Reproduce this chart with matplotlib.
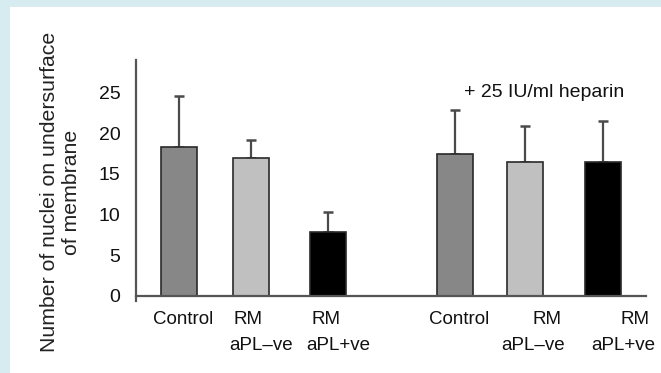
import matplotlib.pyplot as plt
from matplotlib.patches import Rectangle
from matplotlib.transforms import blended_transform_factory

plt.rcParams['font.family'] = ['Liberation Sans', 'DejaVu Sans']

# ---------------- data ----------------
categories = ["Control", "RM\naPL\u2013ve", "RM\naPL+ve",
              "Control", "RM\naPL\u2013ve", "RM\naPL+ve"]
means = [18.3, 16.9, 7.9, 17.4, 16.5, 16.5]
upper_err = [6.3, 2.3, 2.4, 5.5, 4.4, 5.0]
y_ticks = [0, 5, 10, 15, 20, 25]
note = "+ 25 IU/ml heparin"

# ---------------- layout ----------------
xpos = [0, 0.967, 1.993, 3.68, 4.62, 5.66]
bar_colors = ['#878787', '#c0c0c0', '#000000'] * 2
# x centre of each line of each category label (data units)
line_x = [[0.06], [0.93, 1.10], [1.97, 2.13],
          [3.74], [4.91, 4.73], [6.09, 5.93]]
line_y = [320, 345]  # pixel rows from top
txt = '#111111'

W, H = 661, 373
fig = plt.figure(figsize=(W / 100, H / 100), dpi=100)
fig.patch.set_facecolor('#d6ecf1')
fig.patches.append(Rectangle((10 / W, 0), 1, 1 - 7 / H, transform=fig.transFigure,
                             facecolor='white', edgecolor='none', zorder=-5))

ax = fig.add_axes([135.7 / W, 77 / H - 0.6 * 8.13 / H, (646 - 135.7) / W,
                   (236 + 0.6 * 8.13) / H])
ax.set_facecolor('none')

ax.bar(xpos, means, width=0.48, color=bar_colors, edgecolor='#2a2a2a',
       linewidth=1.2, zorder=2)
ax.errorbar(xpos, means, yerr=[[0] * len(means), upper_err], fmt='none',
            ecolor='#4a4a4a', elinewidth=1.6, capsize=3.8, capthick=1.8, zorder=1)

ax.set_xlim(-0.571, 6.233)
ax.set_ylim(-0.6, 29.0)
ax.spines[['top', 'right']].set_visible(False)
ax.spines['bottom'].set_position(('data', 0))
for s in ('left', 'bottom'):
    ax.spines[s].set_color('#555555')
    ax.spines[s].set_linewidth(1.6)
ax.set_xticks([])
ax.set_yticks(y_ticks)
ax.tick_params(axis='y', length=0, pad=11, labelsize=14, labelcolor=txt)

trans = blended_transform_factory(ax.transData, fig.transFigure)
for label, xs in zip(categories, line_x):
    for line, lx, py in zip(label.split('\n'), xs, line_y):
        ax.text(lx, 1 - py / H, line, transform=trans, ha='center', va='center',
                fontsize=13.5, color=txt)

ax.text(4.87, 25, note, ha='center', va='center', fontsize=14, color=txt)

fig.text(60.5 / W, 1 - 192 / H, "Number of nuclei on undersurface\nof membrane",
         rotation=90, ha='center', va='center', multialignment='center',
         fontsize=15.3, color='#222222', linespacing=1.22)

fig.savefig('out.png', dpi=100, facecolor=fig.get_facecolor())
